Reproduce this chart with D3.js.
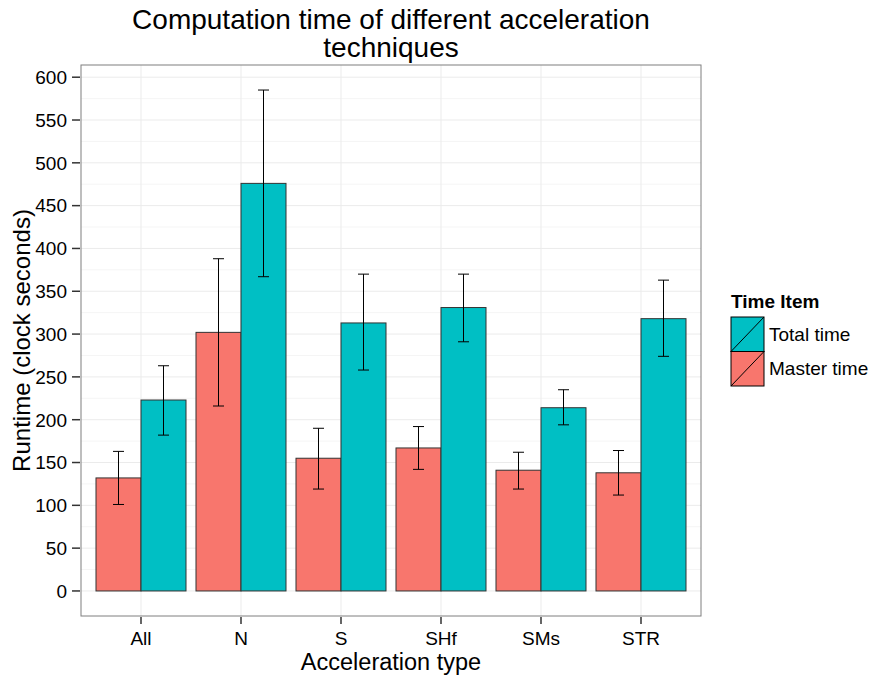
<!DOCTYPE html>
<html><head><meta charset="utf-8">
<script src="https://cdn.jsdelivr.net/npm/d3@7"></script>
<style>body{margin:0;background:#fff;} text{font-family:"Liberation Sans",Arial,sans-serif;}</style>
</head><body>
<svg id="c" width="870" height="677"></svg>
<script>
const categories = ["All","N","S","SHf","SMs","STR"];
const seriesNames = ["Master time","Total time"];
const masterTime = [132, 302, 155, 167, 141, 138];
const masterLow  = [101, 216, 119, 142, 119, 112];
const masterHigh = [163, 388, 190, 192, 162, 164];
const totalTime  = [223, 476, 313, 331, 214, 318];
const totalLow   = [182, 367, 258, 291, 194, 274];
const totalHigh  = [263, 585, 370, 370, 235, 363];
const yTicks = [0,50,100,150,200,250,300,350,400,450,500,550,600];
const colors = {"Master time":"#F8766D","Total time":"#00BFC4"};

const svg = d3.select("#c");
const L = 81, R = 701, T = 65, B = 616;
const ymax = d3.max(totalHigh.concat(masterHigh));
const pad = ymax*0.05;
const y = d3.scaleLinear().domain([-pad, ymax+pad]).range([B, T]);
const step = (R-L)/(categories.length+0.2);
const x = d3.scalePoint().domain(categories).range([L + step*0.6, R - step*0.6]);
const cx = c => x(c);
const sub = d3.scaleBand().domain(seriesNames).range([-0.45*step, 0.45*step]);

const g = svg.append("g");
const minor = [];
for (let v=25; v<=ymax+pad; v+=50) minor.push(v);
g.selectAll(".minor").data(minor).enter().append("line")
  .attr("x1",L).attr("x2",R).attr("y1",d=>y(d)).attr("y2",d=>y(d))
  .attr("stroke","#f5f5f5").attr("stroke-width",1);
g.selectAll(".major").data(yTicks).enter().append("line")
  .attr("x1",L).attr("x2",R).attr("y1",d=>y(d)).attr("y2",d=>y(d))
  .attr("stroke","#ebebeb").attr("stroke-width",1);
g.selectAll(".vmajor").data(categories).enter().append("line")
  .attr("x1",d=>cx(d)).attr("x2",d=>cx(d)).attr("y1",T).attr("y2",B)
  .attr("stroke","#ebebeb").attr("stroke-width",1);

const rows = [];
categories.forEach((c,i)=>{
  rows.push({c, s:"Master time", v:masterTime[i], lo:masterLow[i], hi:masterHigh[i]});
  rows.push({c, s:"Total time", v:totalTime[i], lo:totalLow[i], hi:totalHigh[i]});
});
g.selectAll(".bar").data(rows).enter().append("rect")
  .attr("x",d=>cx(d.c)+sub(d.s)).attr("width",sub.bandwidth())
  .attr("y",d=>y(d.v)).attr("height",d=>y(0)-y(d.v))
  .attr("fill",d=>colors[d.s]).attr("stroke","#333").attr("stroke-width",1);
const capW = 11;
const mid = d => cx(d.c)+sub(d.s)+sub.bandwidth()/2;
const eb = g.selectAll(".eb").data(rows).enter().append("g");
eb.append("line").attr("x1",mid).attr("x2",mid)
  .attr("y1",d=>y(d.lo)).attr("y2",d=>y(d.hi)).attr("stroke","#000");
eb.append("line").attr("x1",d=>mid(d)-capW/2).attr("x2",d=>mid(d)+capW/2)
  .attr("y1",d=>y(d.lo)).attr("y2",d=>y(d.lo)).attr("stroke","#000");
eb.append("line").attr("x1",d=>mid(d)-capW/2).attr("x2",d=>mid(d)+capW/2)
  .attr("y1",d=>y(d.hi)).attr("y2",d=>y(d.hi)).attr("stroke","#000");

svg.append("rect").attr("x",L).attr("y",T).attr("width",R-L).attr("height",B-T)
  .attr("fill","none").attr("stroke","#7f7f7f").attr("stroke-width",1);

const ya = svg.append("g");
ya.selectAll("line").data(yTicks).enter().append("line")
  .attr("x1",L-9).attr("x2",L-1).attr("y1",d=>y(d)).attr("y2",d=>y(d)).attr("stroke","#333").attr("stroke-width",1.5);
ya.selectAll("text").data(yTicks).enter().append("text")
  .attr("x",L-14).attr("y",d=>y(d)).attr("dy","0.36em").attr("text-anchor","end")
  .attr("font-size",19).attr("fill","#000").text(d=>d);
const xa = svg.append("g");
xa.selectAll("line").data(categories).enter().append("line")
  .attr("x1",d=>cx(d)).attr("x2",d=>cx(d)).attr("y1",B+1).attr("y2",B+8).attr("stroke","#333").attr("stroke-width",1.5);
xa.selectAll("text").data(categories).enter().append("text")
  .attr("x",d=>cx(d)).attr("y",B+29).attr("text-anchor","middle")
  .attr("font-size",19).attr("fill","#000").text(d=>d);

svg.append("text").attr("x",(L+R)/2).attr("y",670).attr("text-anchor","middle").attr("font-size",23.5).text("Acceleration type");
svg.append("text").attr("transform",`translate(30,${(T+B)/2}) rotate(-90)`).attr("text-anchor","middle").attr("font-size",24).text("Runtime (clock seconds)");
svg.append("text").attr("x",(L+R)/2).attr("y",29).attr("text-anchor","middle").attr("font-size",28).text("Computation time of different acceleration");
svg.append("text").attr("x",(L+R)/2).attr("y",57).attr("text-anchor","middle").attr("font-size",28).text("techniques");

const lg = svg.append("g");
lg.append("text").attr("x",731).attr("y",308).attr("font-size",19).attr("font-weight","bold").text("Time Item");
const legendItems = ["Total time","Master time"];
legendItems.forEach((s,i)=>{
  const ky = 317 + i*34.5;
  lg.append("rect").attr("x",731).attr("y",ky).attr("width",33).attr("height",34.5)
    .attr("fill",colors[s]).attr("stroke","#000").attr("stroke-width",1);
  lg.append("line").attr("x1",731).attr("y1",ky+34.5).attr("x2",764).attr("y2",ky).attr("stroke","#000").attr("stroke-width",1);
  lg.append("text").attr("x",769).attr("y",ky+17).attr("dy","0.36em").attr("font-size",19).text(s);
});
</script>
</body></html>
